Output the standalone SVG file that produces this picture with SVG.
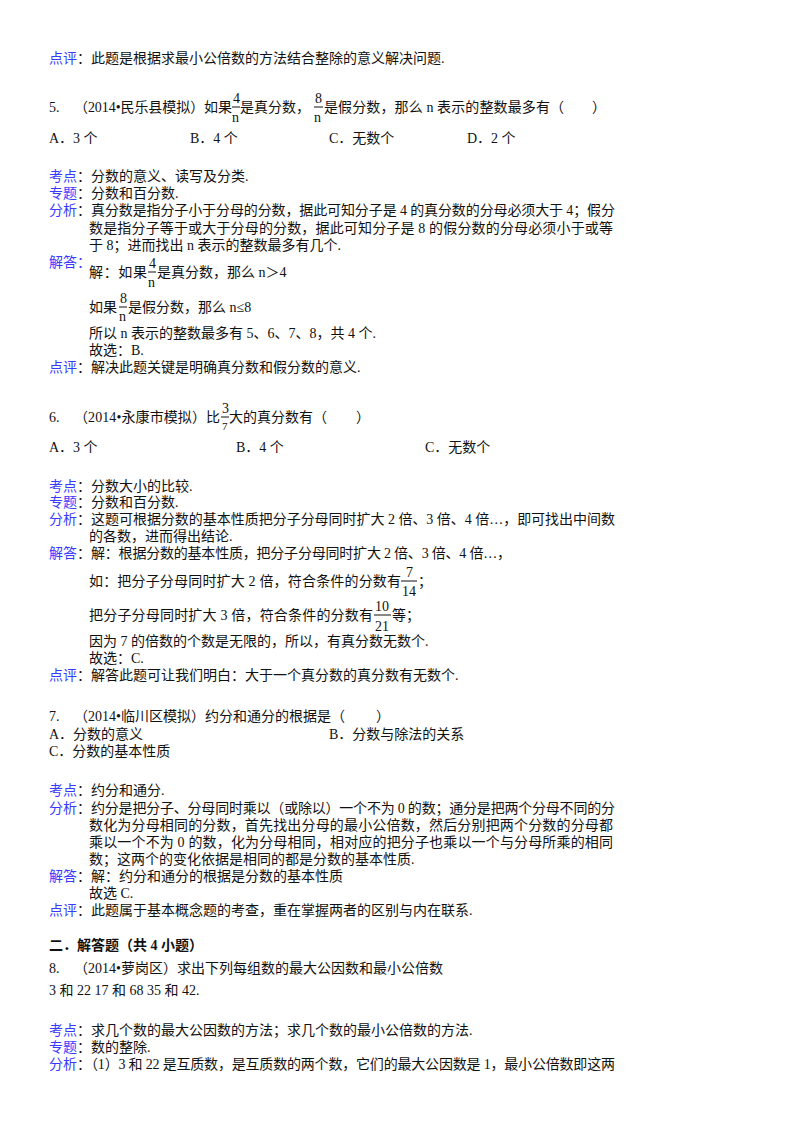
<svg xmlns="http://www.w3.org/2000/svg" width="800" height="1132" viewBox="0 0 800 1132">
<style>
text{font-family:"Liberation Serif","Noto Sans CJK SC",serif;font-size:14px;fill:#111}
.l{fill:#3a3aff}
.b{font-weight:bold}
.f{font-family:"Liberation Serif",serif;font-size:14px}
line{stroke:#111;stroke-width:1}
</style>
<rect width="800" height="1132" fill="#fff"/>
<text x="49" y="63"><tspan class="l">点评</tspan>：此题是根据求最小公倍数的方法结合整除的意义解决问题.</text>

<g id="q5">
<text x="49" y="112">5.</text>
<text x="74" y="112" textLength="158">（2014•民乐县模拟）如果</text>
<text class="f" x="233" y="103">4</text><line x1="232" y1="107" x2="240" y2="107"/><text class="f" x="232" y="122">n</text>
<text x="240" y="112" textLength="70">是真分数，</text>
<text class="f" x="315" y="103">8</text><line x1="314" y1="107" x2="323" y2="107"/><text class="f" x="314" y="122">n</text>
<text x="324" y="112" textLength="240">是假分数，那么 n 表示的整数最多有（</text>
<text x="592" y="112">）</text>
<text x="49" y="143">A．3 个</text><text x="190" y="143">B．4 个</text><text x="329" y="143">C．无数个</text><text x="467" y="143">D．2 个</text>
</g>

<text x="49" y="181"><tspan class="l">考点</tspan>：分数的意义、读写及分类.</text>
<text x="49" y="198"><tspan class="l">专题</tspan>：分数和百分数.</text>
<text x="49" y="215"><tspan class="l">分析</tspan>：<tspan textLength="524">真分数是指分子小于分母的分数，据此可知分子是 4 的真分数的分母必须大于 4；假分</tspan></text>
<text x="89" y="233" textLength="524">数是指分子等于或大于分母的分数，据此可知分子是 8 的假分数的分母必须小于或等</text>
<text x="89" y="250">于 8；进而找出 n 表示的整数最多有几个.</text>
<text x="49" y="267" class="l">解答：</text>
<text x="89" y="277" textLength="58">解：如果</text>
<text class="f" x="149" y="268">4</text><line x1="148" y1="272" x2="156" y2="272"/><text class="f" x="148" y="287">n</text>
<text x="157" y="277">是真分数，那么 n＞4</text>
<text x="89" y="312">如果</text>
<text class="f" x="120" y="303">8</text><line x1="119" y1="307" x2="127" y2="307"/><text class="f" x="119" y="321">n</text>
<text x="128" y="312">是假分数，那么 n≤8</text>
<text x="89" y="338">所以 n 表示的整数最多有 5、6、7、8，共 4 个.</text>
<text x="89" y="355">故选：B.</text>
<text x="49" y="372"><tspan class="l">点评</tspan>：解决此题关键是明确真分数和假分数的意义.</text>

<g id="q6">
<text x="49" y="422">6.</text>
<text x="74" y="422" textLength="146">（2014•永康市模拟）比</text>
<text class="f" x="222" y="413">3</text><line x1="221" y1="417" x2="229" y2="417"/><text class="f" x="222" y="430" style="font-size:11px">7</text>
<text x="229" y="422">大的真分数有（</text>
<text x="356" y="422">）</text>
<text x="49" y="452">A．3 个</text><text x="236" y="452">B．4 个</text><text x="425" y="452">C．无数个</text>
</g>

<text x="49" y="491"><tspan class="l">考点</tspan>：分数大小的比较.</text>
<text x="49" y="507"><tspan class="l">专题</tspan>：分数和百分数.</text>
<text x="49" y="524"><tspan class="l">分析</tspan>：<tspan textLength="524">这题可根据分数的基本性质把分子分母同时扩大 2 倍、3 倍、4 倍…，即可找出中间数</tspan></text>
<text x="89" y="541">的各数，进而得出结论.</text>
<text x="49" y="558"><tspan class="l">解答</tspan>：<tspan textLength="420">解：根据分数的基本性质，把分子分母同时扩大 2 倍、3 倍、4 倍…，</tspan></text>
<text x="89" y="586" textLength="312">如：把分子分母同时扩大 2 倍，符合条件的分数有</text>
<text class="f" x="406" y="577">7</text><line x1="401" y1="581" x2="417" y2="581"/><text class="f" x="402" y="596">14</text>
<text x="418" y="586">；</text>
<text x="89" y="620" textLength="284">把分子分母同时扩大 3 倍，符合条件的分数有</text>
<text class="f" x="375" y="611">10</text><line x1="374" y1="615" x2="391" y2="615"/><text class="f" x="375" y="631">21</text>
<text x="392" y="620">等；</text>
<text x="89" y="646">因为 7 的倍数的个数是无限的，所以，有真分数无数个.</text>
<text x="89" y="663">故选：C.</text>
<text x="49" y="680"><tspan class="l">点评</tspan>：解答此题可让我们明白：大于一个真分数的真分数有无数个.</text>

<g id="q7">
<text x="49" y="721">7.</text>
<text x="74" y="721">（2014•临川区模拟）约分和通分的根据是（</text>
<text x="376" y="721">）</text>
<text x="49" y="739">A．分数的意义</text><text x="329" y="739">B．分数与除法的关系</text>
<text x="49" y="756">C．分数的基本性质</text>
</g>

<text x="49" y="795"><tspan class="l">考点</tspan>：约分和通分.</text>
<text x="49" y="813"><tspan class="l">分析</tspan>：<tspan textLength="524">约分是把分子、分母同时乘以（或除以）一个不为 0 的数；通分是把两个分母不同的分</tspan></text>
<text x="89" y="830" textLength="524">数化为分母相同的分数，首先找出分母的最小公倍数，然后分别把两个分数的分母都</text>
<text x="89" y="847" textLength="524">乘以一个不为 0 的数，化为分母相同，相对应的把分子也乘以一个与分母所乘的相同</text>
<text x="89" y="864">数；这两个的变化依据是相同的都是分数的基本性质.</text>
<text x="49" y="881"><tspan class="l">解答</tspan>：解：约分和通分的根据是分数的基本性质</text>
<text x="89" y="898">故选 C.</text>
<text x="49" y="915"><tspan class="l">点评</tspan>：此题属于基本概念题的考查，重在掌握两者的区别与内在联系.</text>

<text x="49" y="950" class="b">二．解答题（共 4 小题）</text>
<text x="49" y="973">8.</text>
<text x="74" y="973">（2014•萝岗区）求出下列每组数的最大公因数和最小公倍数</text>
<text x="49" y="995">3 和 22 17 和 68 35 和 42.</text>
<text x="49" y="1035"><tspan class="l">考点</tspan>：求几个数的最大公因数的方法；求几个数的最小公倍数的方法.</text>
<text x="49" y="1052"><tspan class="l">专题</tspan>：数的整除.</text>
<text x="49" y="1069"><tspan class="l">分析</tspan>：<tspan textLength="524">（1）3 和 22 是互质数，是互质数的两个数，它们的最大公因数是 1，最小公倍数即这两</tspan></text>
</svg>
